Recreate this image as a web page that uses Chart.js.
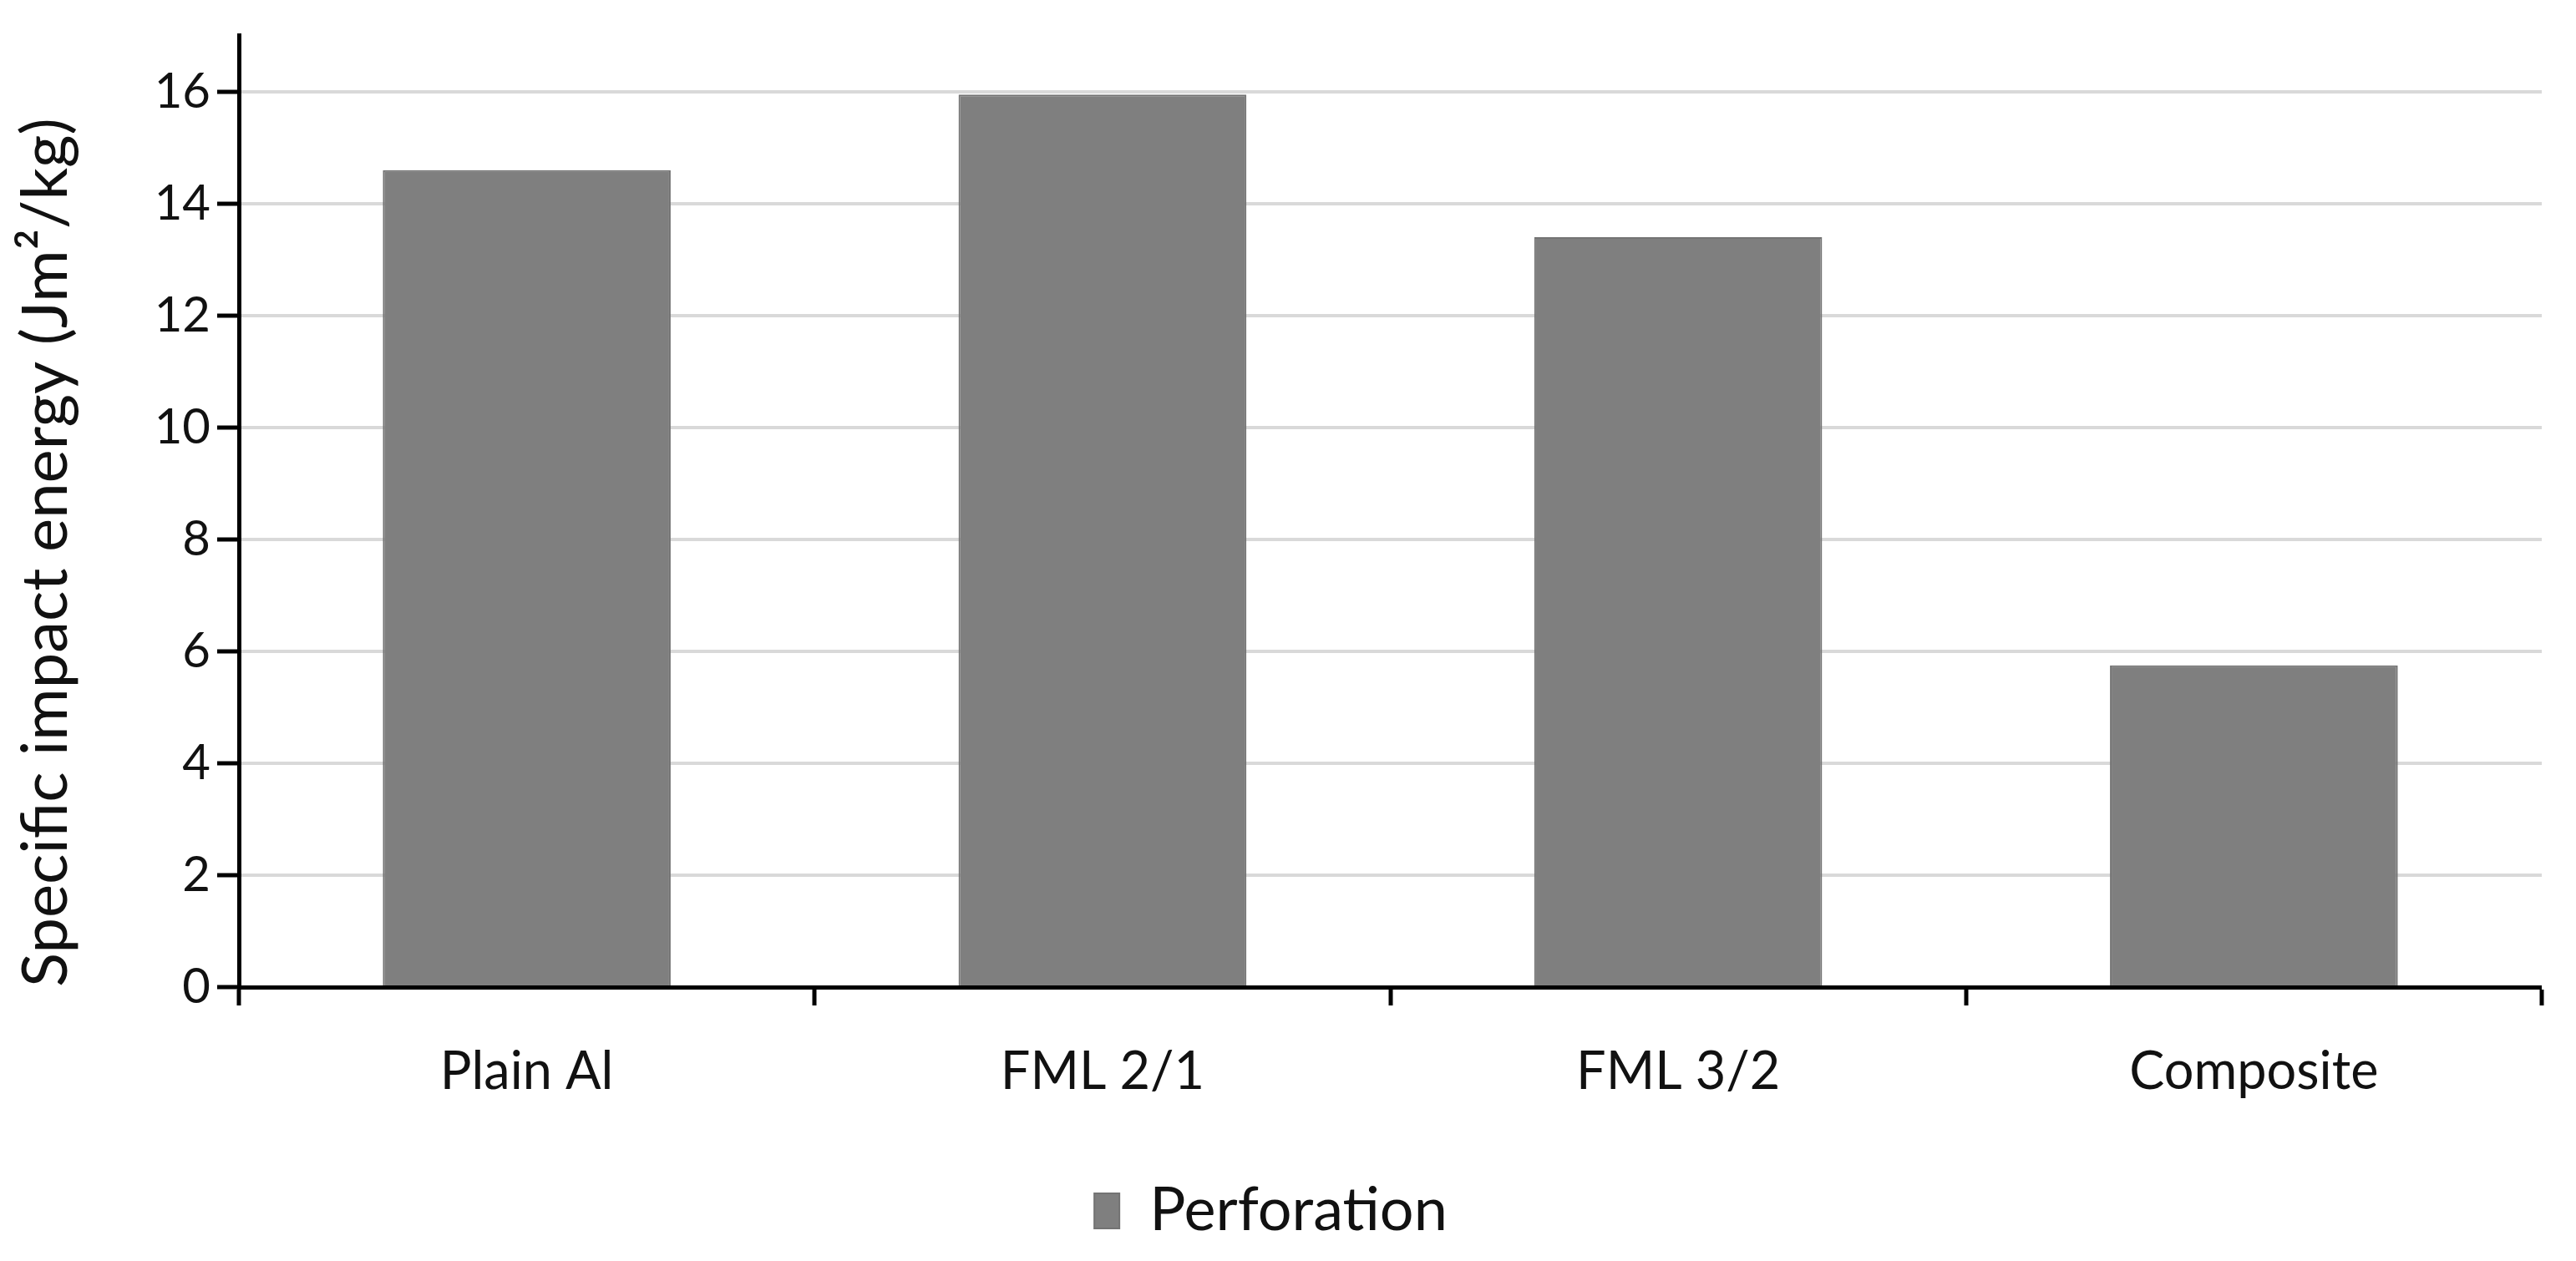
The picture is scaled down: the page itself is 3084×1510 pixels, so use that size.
<!DOCTYPE html>
<html>
<head>
<meta charset="utf-8">
<title>Specific impact energy</title>
<script src="https://cdn.jsdelivr.net/npm/chart.js@4.4.1/dist/chart.umd.min.js"></script>
<style>
  html, body { margin: 0; padding: 0; background: #ffffff; }
  canvas { display: block; }
</style>
</head>
<body>
<canvas id="chart" width="3084" height="1510"></canvas>
<script>
// values
const categories = ["Plain Al", "FML 2/1", "FML 3/2", "Composite"];
const perforation = [14.6, 15.95, 13.4, 5.75];
const seriesName = "Perforation";
const yTitle = "Specific impact energy (Jm\u00B2/kg)";
const yMin = 0;
const yMax = 17;

const fontFamily = "Lato, 'Open Sans', sans-serif";
const textColor = "#111111";

const ctx = document.getElementById("chart");

new Chart(ctx, {
  type: "bar",
  data: {
    labels: categories,
    datasets: [{
      label: seriesName,
      data: perforation,
      backgroundColor: "#7f7f7f",
      borderColor: "#737373",
      borderWidth: 2,
      barPercentage: 0.5,
      categoryPercentage: 1.0
    }]
  },
  options: {
    responsive: false,
    animation: false,
    devicePixelRatio: 1,
    layout: {
      padding: { left: 0, right: 41, top: 36, bottom: 14 }
    },
    plugins: {
      tooltip: { enabled: false },
      legend: {
        position: "bottom",
        labels: {
          color: textColor,
          font: { family: fontFamily, size: 72 },
          boxWidth: 30,
          boxHeight: 42,
          padding: 30
        }
      }
    },
    scales: {
      x: {
        afterFit: function (s) { s.height = 202; },
        border: { display: true, color: "#000000", width: 5 },
        grid: {
          offset: true,
          drawTicks: true,
          tickLength: 22,
          tickWidth: 5,
          tickColor: "#000000",
          color: function (c) { return c.index === categories.length ? "#333333" : "rgba(0,0,0,0)"; },
          lineWidth: function (c) { return c.index === categories.length ? 4 : 0; }
        },
        ticks: {
          color: textColor,
          font: { family: fontFamily, size: 63 },
          padding: 42,
          maxRotation: 0
        }
      },
      y: {
        min: yMin,
        max: yMax,
        afterFit: function (s) { s.width = 286; },
        border: { display: true, color: "#000000", width: 5 },
        grid: {
          drawTicks: true,
          tickLength: 26,
          tickWidth: 5,
          tickColor: "#000000",
          color: function (c) {
            const v = c.tick.value;
            if (v === yMax) return "#000000";
            if (v === 0 || v % 2 !== 0) return "rgba(0,0,0,0)";
            return "#d9d9d9";
          },
          lineWidth: function (c) { return c.tick.value === yMax ? 5 : 4; }
        },
        ticks: {
          stepSize: 1,
          color: textColor,
          font: { family: fontFamily, size: 58 },
          padding: 8,
          callback: function (v) { return v % 2 === 0 ? v : ""; }
        },
        title: {
          display: true,
          text: yTitle,
          align: "start",
          color: textColor,
          font: { family: fontFamily, size: 76 },
          padding: { top: 10, bottom: 0 }
        }
      }
    }
  }
});
</script>
</body>
</html>
